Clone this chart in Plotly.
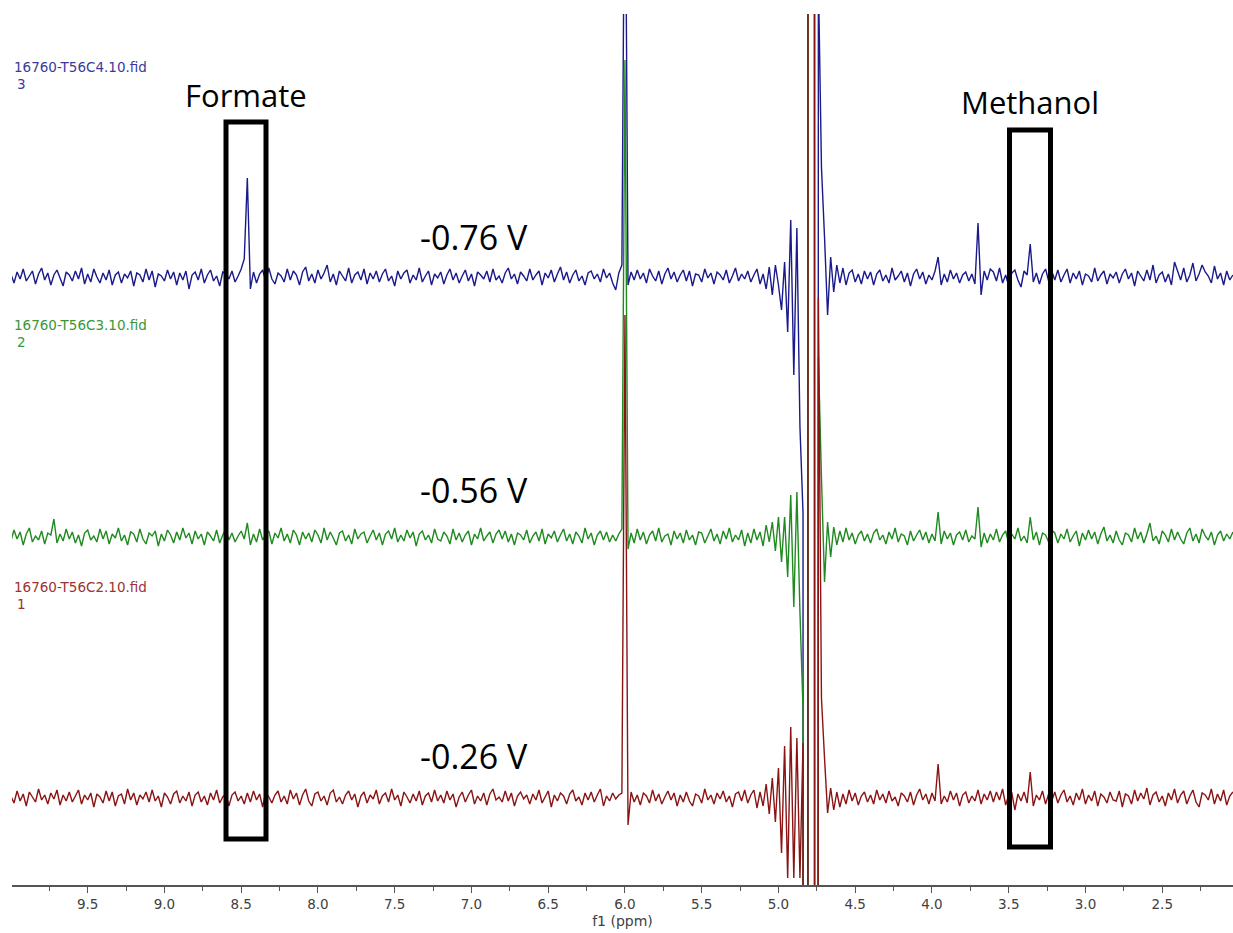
import numpy as np
import plotly.graph_objects as go

# ---------------- data (intensity, arbitrary units; one row = 20 points of 0.02 ppm) -------------
ppm_start = 10.00
ppm_step = 0.02

blue_spec = [
    3, -6, 5, -2, 8, -4, 1, 6, -7, 3, 9, -3, 4, -8, 2, 7, -1, -9, 5, 2,            # 10.00-9.62
    -4, 6, -2, 9, -7, 3, -5, 8, 0, -6, 4, -3, 7, -8, 2, 5, -6, 3, -1, 6,           # 9.60-9.22
    -9, 4, 2, -5, 8, -3, 6, -10, 3, 1, -4, 7, -2, 5, -8, 4, -3, 6, -12, 2,         # 9.20-8.82
    5, -3, 8, -6, 2, 7, -4, 1, -9, 5, 3, -2, 6, -5, 1, 8, 18, 99, -12, 5,          # 8.80-8.42
    -6, 3, 7, -4, 9, -2, -7, 4, 1, -5, 8, -3, 6, 2, -8, 5, 10, -4, 3, -6,          # 8.40-8.02
    7, -2, 4, 12, -5, 3, -8, 6, 1, -4, 9, -6, 2, 5, -3, 8, -7, 4, -2, 6,           # 8.00-7.62
    -5, 3, 8, -4, 1, -9, 6, -2, 4, 7, -6, 2, -3, 9, -5, 1, 6, -8, 3, -1,           # 7.60-7.22
    5, -7, 2, 8, -3, 4, -6, 1, 7, -4, 3, -9, 5, 2, -2, 6, -5, 8, -3, 1,            # 7.20-6.82
    -6, 4, 9, -2, 3, -7, 5, 1, -4, 8, -3, 2, 6, -8, 4, -1, 7, -5, 3, 10,           # 6.80-6.42
    -3, 5, -6, 2, 7, -4, 1, -8, 4, 6, -2, 3, -5, 8, -1, 4, -6, -13, 4, 12,         # 6.40-6.02
    480, -8, 5, -3, 7, -2, 4, -6, 8, 1, -4, 6, -7, 3, 9, -2, 5, -5, 2, 7,          # 6.00-5.62
    -4, 6, -9, 3, 2, -5, 8, -1, 4, -7, 5, 2, -3, 7, -6, 1, 9, -4, 3, -2,           # 5.60-5.22
    6, -5, 2, 8, -7, 3, -12, 10, -18, 12, -8, -33, 15, -55, 57, -98, 49, -150, -236, -45000,  # 5.20-4.82
    30000, 30000, -10000, 300, 110, 40, -38, 20, -15, 12, -6, 9, -8, 4, 7, -5, 3, -7, 6, -2,  # 4.80-4.42
    5, -8, 3, 7, -4, 2, -6, 9, -3, 1, 6, -5, 4, -9, 3, 8, -2, 5, -7, 2,            # 4.40-4.02
    -3, 6, 20, -8, 3, -5, 7, -2, 4, -6, 2, 5, -4, 3, -7, 54, -18, 6, -3, 8,        # 4.00-3.62
    5, -4, 9, -6, 2, -9, 4, 7, -3, -10, 6, 2, 33, -5, 4, -7, 3, 8, -4, 6,          # 3.60-3.22
    -3, 7, -5, 2, 8, -6, 4, -2, 6, -8, 3, 1, -5, 9, -4, 2, 6, -7, 3, -1,           # 3.20-2.82
    5, -6, 3, 8, -2, 4, -9, 6, 1, -4, 7, -3, 12, -6, 2, 5, -5, 3, -8, 15,          # 2.80-2.42
    6, -3, 9, -5, 2, 14, -4, 3, 12, 5, 1, -6, 11, -2, 4, -8, 6, -3, 2,             # 2.40-2.04
]

green_spec = [
    -4, 7, -2, 5, -8, 3, 9, -5, 1, -3, 6, -7, 4, 2, 18, -6, 3, -4, 8, -2,
    5, -6, 2, -9, 4, 7, -3, 1, -5, 8, -2, 6, -7, 3, -1, 9, -4, 2, -8, 5,
    3, -5, 8, -2, -7, 4, 1, 6, -9, 3, -4, 7, 2, -6, 5, -3, 9, -1, 4, -7,
    6, -2, 3, -8, 5, 1, -4, 7, -6, 2, 8, -3, 4, -5, 1, 6, -2, 14, -8, 3,
    -5, 8, -3, 2, 6, -7, 4, -1, 9, -4, 3, -6, 7, 2, -8, 5, -2, 4, -5, 7,
    2, -6, 9, -3, 5, -1, -8, 4, 6, -4, 2, -7, 8, -2, 3, 5, -6, 1, 7, -3,
    4, -8, 3, 6, -2, 9, -5, 2, -4, 7, -1, 5, -9, 3, 6, -3, 2, -6, 8, -2,
    -4, 5, 1, -7, 8, -3, 4, -5, 2, 6, -8, 3, -2, 9, -4, 1, 5, -6, 3, 7,
    -2, 6, -5, 3, -8, 4, 2, -3, 7, -6, 1, 5, -4, 8, -7, 3, -1, 6, -5, 2,
    8, -4, 3, -7, 5, 1, -6, 9, -2, 4, -8, 2, 6, -3, 5, -5, 2, -4, 3, 8,
    477, -12, 4, -6, 8, -3, 5, -7, 2, 6, -4, 9, -5, 1, 3, -8, 6, -2, 4, -6,
    7, -3, 2, -8, 5, 4, -6, 1, 8, -4, 3, -7, 6, -2, 9, -5, 2, -3, 7, -9,
    4, -6, 8, -3, 5, -9, 12, -5, 15, -14, 20, -25, 20, -40, 42, -70, 45, -75, -173, -45000,
    30000, 30000, -10000, 180, 60, -45, 15, -20, 10, -8, 6, -5, 9, -3, 4, -7, 2, 6, -4, 3,
    -6, 4, 8, -3, 2, -7, 5, -2, 9, -5, 3, 1, -8, 6, -4, 2, 7, -3, 5, -6,
    3, -4, 25, -7, 6, -2, 4, -8, 2, 5, -3, 7, -5, 1, -2, 30, -10, 4, -6, 3,
    -3, 8, -5, 2, 6, -7, 3, -2, 9, -4, 1, -6, 20, -3, 5, -8, 4, 2, -5, 7,
    4, -6, 3, -2, 8, -5, 1, 6, -9, 4, -3, 7, -2, 5, -7, 3, 10, -4, 2, -6,
    6, -3, -8, 4, 2, -5, 9, -2, 5, -6, 3, 14, -4, 1, -7, 6, 2, -5, 8, -3,
    5, -2, -7, 4, 9, -4, 3, -6, 8, 1, -3, 5, -8, 2, 6, -4, 3, -2, 5,
]

red_spec = [
    2, -5, 7, -3, 4, -8, 6, 1, -4, 9, -2, 3, -6, 5, -1, 8, -7, 3, -3, 6,
    -4, 2, 8, -6, 3, -2, 5, -9, 4, 1, -5, 7, -3, 6, -8, 2, 4, -6, 9, -2,
    5, -7, 3, -1, 6, -4, 8, -3, 2, -9, 5, 1, -6, 4, 7, -5, 2, -3, 6, -8,
    3, 6, -4, 2, -7, 5, -2, 8, -5, 1, 4, -8, 3, 6, -3, 2, -6, 5, -4, 7,
    -2, 4, -9, 6, 1, -5, 3, 7, -4, 2, -6, 8, -1, 5, -7, 3, 9, -3, -8, 4,
    6, -3, 2, -7, 5, 8, -4, 1, -6, 3, 7, -2, 4, -9, 2, 6, -5, 3, -1, 8,
    -6, 2, 5, -4, 9, -2, 3, -8, 6, 1, -5, 4, -3, 7, -7, 2, 5, -4, 8, -3,
    3, -5, 7, -2, 4, -9, 1, 6, -4, 3, 8, -6, 2, -3, 5, -7, 4, 9, -2, 1,
    -4, 7, -3, 5, -8, 2, 6, -1, 3, -6, 4, -2, 8, -5, 1, 7, -9, 3, -3, 5,
    2, -6, 4, 8, -3, 1, -7, 5, -2, 6, -4, 3, 9, -8, 2, -3, 5, -1, 3, 5,
    483, -27, 6, -4, 3, -7, 5, 2, -5, 8, -3, 4, -6, 1, 7, -2, 5, -8, 3, -4,
    6, -3, -8, 4, 2, -5, 9, -2, 3, -6, 5, -1, 7, -4, 2, -9, 4, 6, -3, 8,
    -5, 3, 8, -10, 6, -8, 14, -16, 20, -24, 30, -55, 52, -80, 71, -80, 60, -80, 55, -45000,
    30000, 30000, -10000, 500, 100, 40, -15, 10, -12, 6, -9, 4, -6, 8, -3, 5, -7, 2, 6, -4,
    3, -6, 8, -2, 4, -5, 7, -3, 1, -8, 5, 2, -4, 6, -7, 3, 9, -2, 4, -6,
    5, -3, 34, -6, 2, -4, 7, -2, 5, -8, 3, 6, -5, 2, -3, 8, -6, 4, -2, 7,
    -4, 6, -2, 9, -7, 3, 5, -12, 4, -3, 6, -5, 26, -8, 3, -2, 7, -6, 4, -3,
    6, -5, 3, 8, -4, 2, -7, 5, -2, 9, -6, 3, -3, 7, -8, 4, 1, -5, 6, -2,
    -3, 7, -9, 4, 2, -6, 8, -3, 5, -1, 10, -7, 3, 6, -4, 2, -8, 5, -2, 9,
    -5, 3, 7, -6, 2, 8, -4, -9, 5, 3, -2, 9, -6, 4, -3, 8, -7, 2, 6,
]

spectra = [
    ("16760-T56C4.10.fid", "3", blue_spec),
    ("16760-T56C3.10.fid", "2", green_spec),
    ("16760-T56C2.10.fid", "1", red_spec),
]
voltages = ["-0.76 V", "-0.56 V", "-0.26 V"]
region_labels = ["Formate", "Methanol"]
tick_values = [9.5, 9.0, 8.5, 8.0, 7.5, 7.0, 6.5, 6.0, 5.5, 5.0, 4.5, 4.0, 3.5, 3.0, 2.5]

# ---------------- styling / layout -------------
W, H = 1233, 933
ML, MR, MT, MB = 12, 0, 14, 48
PW, PH = W - ML - MR, H - MT - MB
line_colors = ["#1a1a8a", "#208a20", "#8a1414"]
label_colors = ["#3a3a9e", "#3a963a", "#983434"]
offsets = [521, 261, 0]          # vertical stacking offsets (display units)


def px(x):
    return (x - ML) / PW


def py(y):
    return (H - MB - y) / PH


fig = go.Figure()
for (name, num, spec), col, off in zip(spectra, line_colors, offsets):
    n = len(spec)
    x = np.round(ppm_start - ppm_step * np.arange(n), 4)
    y = np.array(spec, dtype=float) + off
    fig.add_trace(go.Scatter(x=x, y=y, mode="lines",
                             line=dict(color=col, width=1.4, simplify=False),
                             showlegend=False, hoverinfo="skip"))

annotations = []
label_y = [(67, 84), (325, 342), (587, 604)]
for (name, num, _), col, (y1, y2) in zip(spectra, label_colors, label_y):
    annotations.append(dict(x=px(12), y=py(y1), xref="paper", yref="paper", text=name,
                            showarrow=False, xanchor="left", yanchor="middle",
                            font=dict(family="DejaVu Sans", size=13.5, color=col)))
    annotations.append(dict(x=px(15), y=py(y2), xref="paper", yref="paper", text=num,
                            showarrow=False, xanchor="left", yanchor="middle",
                            font=dict(family="DejaVu Sans", size=13.5, color=col)))

for txt, yy in zip(voltages, [237, 490, 756]):
    annotations.append(dict(x=px(474), y=py(yy), xref="paper", yref="paper", text=txt,
                            showarrow=False, xanchor="center", yanchor="middle",
                            font=dict(family="Open Sans", size=34, color="black")))

for txt, xx, yy in zip(region_labels, [246, 1030], [95, 102]):
    annotations.append(dict(x=px(xx), y=py(yy), xref="paper", yref="paper", text=txt,
                            showarrow=False, xanchor="center", yanchor="middle",
                            font=dict(family="Open Sans", size=31, color="black")))

shapes = [
    dict(type="rect", xref="paper", yref="paper", x0=px(226), x1=px(266),
         y0=py(839), y1=py(122), line=dict(color="black", width=5)),
    dict(type="rect", xref="paper", yref="paper", x0=px(1009.5), x1=px(1050.5),
         y0=py(847), y1=py(130), line=dict(color="black", width=5)),
]

fig.update_layout(
    width=W, height=H,
    margin=dict(l=ML, r=MR, t=MT, b=MB),
    paper_bgcolor="white", plot_bgcolor="white",
    annotations=annotations, shapes=shapes,
    xaxis=dict(range=[9.993, 2.039], showgrid=False, zeroline=False,
               showline=True, linecolor="#555555", linewidth=1.5,
               ticks="outside", ticklen=6, tickcolor="#555555", tickwidth=1.2,
               tickvals=tick_values, ticktext=[f"{v:.1f}" for v in tick_values],
               tickfont=dict(family="DejaVu Sans", size=13.5, color="#404040"),
               minor=dict(dtick=0.25, tick0=0, ticks="outside", ticklen=4,
                          tickcolor="#555555", tickwidth=1.2),
               title=dict(text="f1 (ppm)", standoff=5,
                          font=dict(family="DejaVu Sans", size=14, color="#404040"))),
    yaxis=dict(range=[-87, 784], visible=False, fixedrange=True),
)

fig.write_html("out.html")
